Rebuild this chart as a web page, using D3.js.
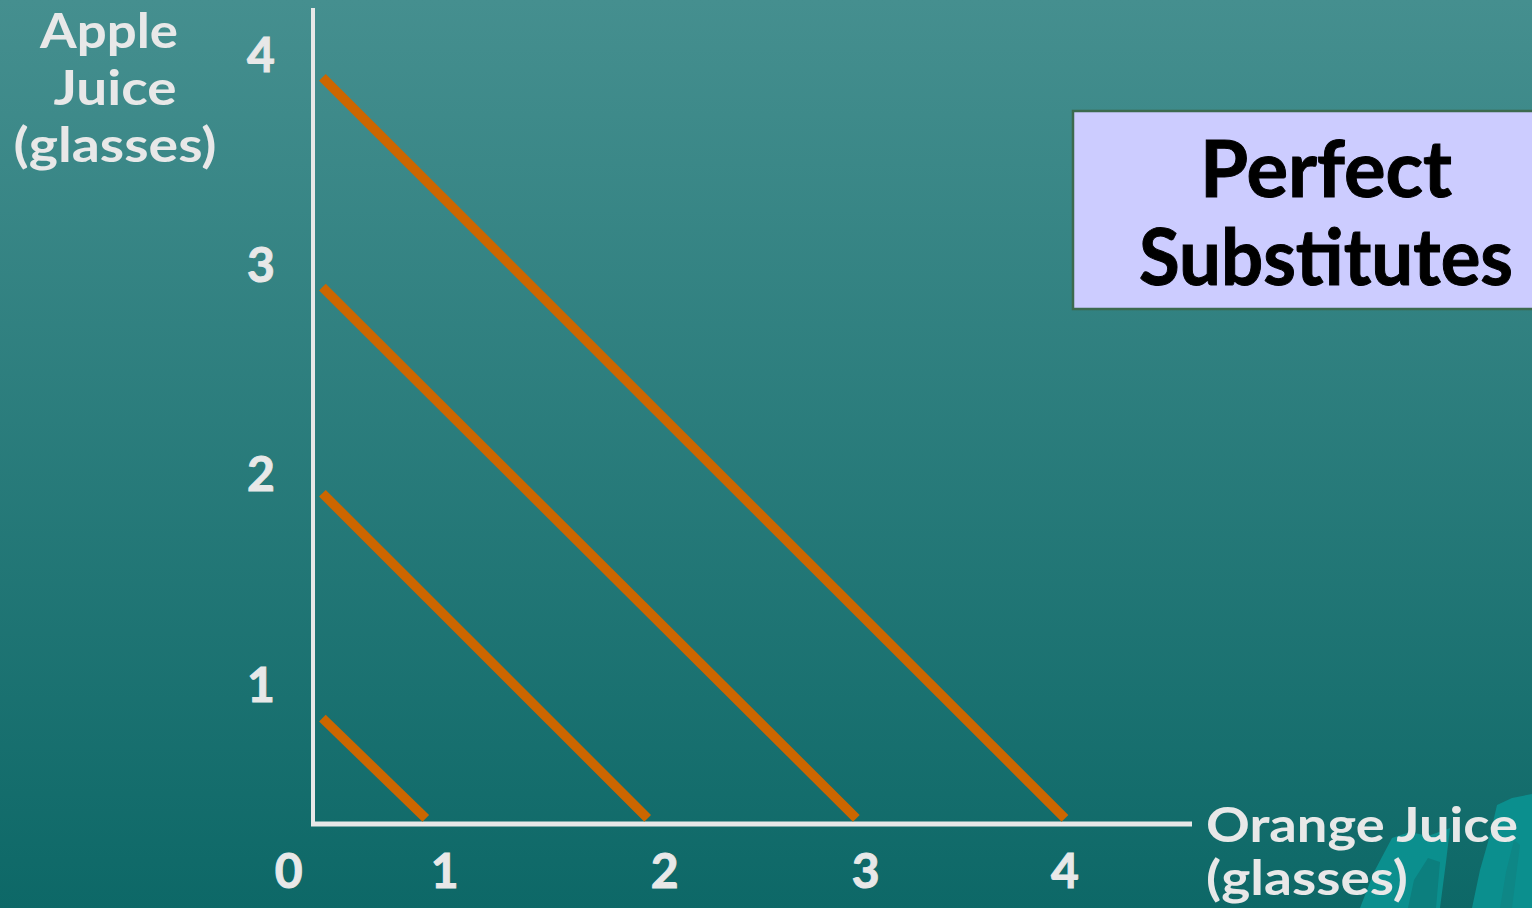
<!DOCTYPE html>
<html>
<head>
<meta charset="utf-8">
<script src="https://cdn.jsdelivr.net/npm/d3@7"></script>
<style>
  html, body { margin: 0; padding: 0; overflow: hidden; }
  svg { display: block; }
  text { font-family: "Lato", "DejaVu Sans", sans-serif; font-weight: 700; }
</style>
</head>
<body>
<svg id="chart" width="1532" height="908"></svg>
<script>
// Indifference lines for perfect substitutes (glasses of juice)
const curveTopApple = [0.56, 1.75, 2.84, 3.95];   // apple juice where each line starts
const curveEndOrange = [0.60, 1.78, 2.89, 4.00];  // orange juice where each line meets the axis
const curveStartOrange = 0.05;
const curveEndApple = 0.03;

// Axis tick labels and where they sit
const xTickLabels = ["0", "1", "2", "3", "4"];
const xTickAt = [-0.13, 0.70, 1.87, 2.94, 4.00];
const yTickLabels = ["1", "2", "3", "4"];
const yTickAt = [0.735, 1.85, 2.96, 4.07];

const yTitle = ["Apple", "Juice", "(glasses)"];
const xTitle = ["Orange Juice", "(glasses)"];
const boxTitle = ["Perfect", "Substitutes"];

const W = 1532, H = 908;
const svg = d3.select("#chart");

// background
const defs = svg.append("defs");
const grad = defs.append("linearGradient").attr("id", "bg")
  .attr("x1", 0).attr("y1", 0).attr("x2", 0).attr("y2", 1);
grad.append("stop").attr("offset", "0%").attr("stop-color", "#458f8f");
grad.append("stop").attr("offset", "100%").attr("stop-color", "#0d6867");
svg.append("rect").attr("width", W).attr("height", H).attr("fill", "url(#bg)");

// decorative brush strokes, lower right
const deco = svg.append("g").attr("fill", "#0b8f8e");
deco.append("path").attr("d", "M1360,908 L1374,872 L1392,838 L1410,832 L1428,836 L1450,828 L1446,862 L1440,908 Z");
deco.append("path").attr("d", "M1472,908 L1480,870 L1490,835 L1497,805 L1512,798 L1532,794 L1532,908 Z");
deco.append("path").attr("d", "M1408,908 L1414,880 L1428,858 L1440,862 L1436,908 Z").attr("fill", "#0c7f7e");
deco.append("path").attr("d", "M1500,908 L1506,872 L1514,840 L1520,845 L1512,908 Z").attr("fill", "#0e8786");

const x = d3.scaleLinear().domain([0, 4]).range([313, 1065]);
const y = d3.scaleLinear().domain([0, 4]).range([824, 68]);

const axisColor = "#e8e8e8";

// axes
svg.append("line").attr("x1", x(0)).attr("x2", x(0))
  .attr("y1", 8).attr("y2", y(0) + 2)
  .attr("stroke", axisColor).attr("stroke-width", 4);
svg.append("line").attr("x1", x(0) - 2).attr("x2", 1192)
  .attr("y1", y(0)).attr("y2", y(0))
  .attr("stroke", axisColor).attr("stroke-width", 5);

// indifference lines
svg.append("g").selectAll("line")
  .data(curveTopApple.map((a, i) => ({ a, o: curveEndOrange[i] })))
  .join("line")
  .attr("x1", x(curveStartOrange)).attr("y1", d => y(d.a))
  .attr("x2", d => x(d.o)).attr("y2", y(curveEndApple))
  .attr("stroke", "#cc6600").attr("stroke-width", 9.5);

// tick labels
svg.append("g").selectAll("text")
  .data(xTickLabels.map((t, i) => ({ t, v: xTickAt[i] })))
  .join("text")
  .attr("x", d => x(d.v)).attr("y", 888)
  .attr("text-anchor", "middle").attr("font-size", 48)
  .attr("fill", axisColor).attr("stroke", axisColor).attr("stroke-width", 1)
  .text(d => d.t);

svg.append("g").selectAll("text")
  .data(yTickLabels.map((t, i) => ({ t, v: yTickAt[i] })))
  .join("text")
  .attr("x", 261).attr("y", d => y(d.v) + 17)
  .attr("text-anchor", "middle").attr("font-size", 48)
  .attr("fill", axisColor).attr("stroke", axisColor).attr("stroke-width", 1)
  .text(d => d.t);

// axis titles
const yTitleWidths = [138, 123, 203];
svg.append("g").selectAll("text")
  .data(yTitle).join("text")
  .attr("x", (d, i) => i === 0 ? 109 : 115)
  .attr("y", (d, i) => 48 + i * 57)
  .attr("text-anchor", "middle").attr("font-size", 47)
  .attr("textLength", (d, i) => yTitleWidths[i]).attr("lengthAdjust", "spacingAndGlyphs")
  .attr("fill", axisColor).text(d => d);

const xTitleWidths = [312, 202];
svg.append("g").selectAll("text")
  .data(xTitle).join("text")
  .attr("x", 1206)
  .attr("y", (d, i) => 842 + i * 53)
  .attr("font-size", 47)
  .attr("textLength", (d, i) => xTitleWidths[i]).attr("lengthAdjust", "spacingAndGlyphs")
  .attr("fill", axisColor).text(d => d);

// title box
svg.append("rect").attr("x", 1073).attr("y", 111).attr("width", 470).attr("height", 198)
  .attr("fill", "#ccccff").attr("stroke", "#3c6a4e").attr("stroke-width", 2.5);
const boxWidths = [252, 374];
svg.append("g").selectAll("text")
  .data(boxTitle).join("text")
  .attr("x", 1326).attr("y", (d, i) => 197 + i * 88)
  .attr("text-anchor", "middle").attr("font-size", 78)
  .attr("textLength", (d, i) => boxWidths[i]).attr("lengthAdjust", "spacingAndGlyphs")
  .attr("fill", "#000").attr("stroke", "#000").attr("stroke-width", 1)
  .text(d => d);
</script>
</body>
</html>
